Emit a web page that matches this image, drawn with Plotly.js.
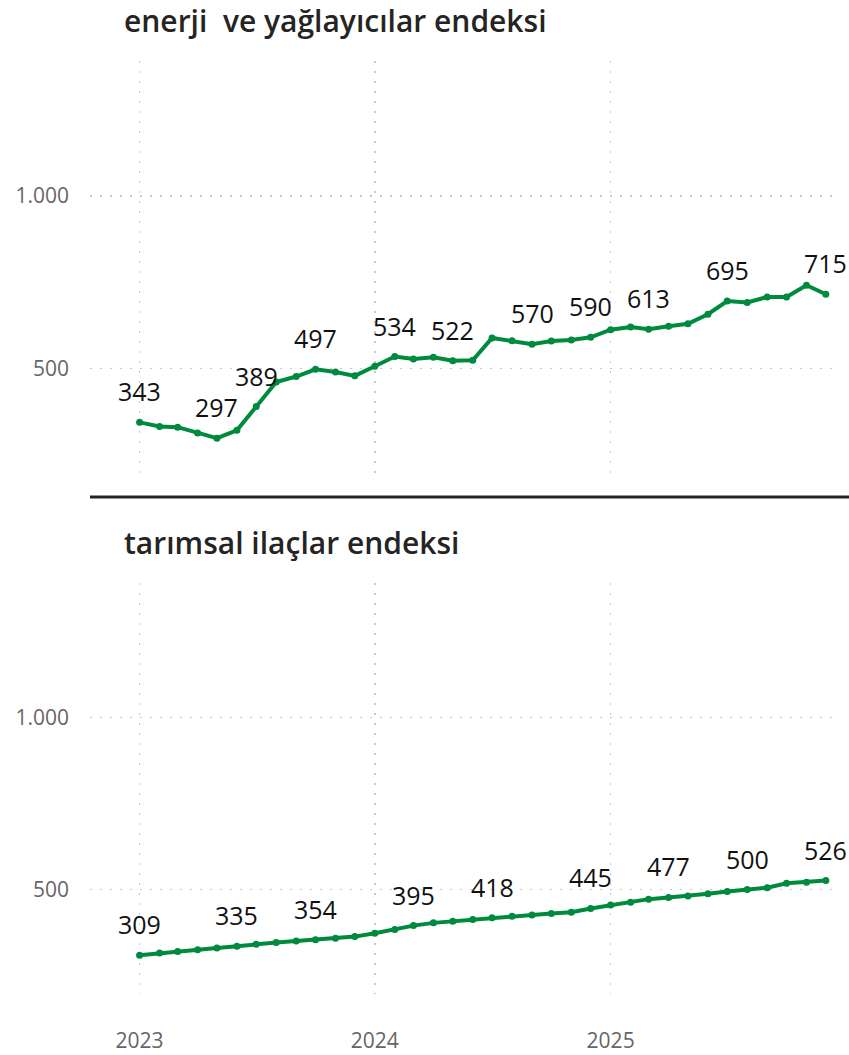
<!DOCTYPE html>
<html>
<head>
<meta charset="utf-8">
<script src="https://cdn.plot.ly/plotly-3.0.1.min.js"></script>
<style>html,body{margin:0;padding:0;background:#fff;}#chart{width:849px;height:1055px;}</style>
</head>
<body>
<div id="chart"></div>
<script>
const months = ["2023-01-01","2023-02-01","2023-03-01","2023-04-01","2023-05-01","2023-06-01",
"2023-07-01","2023-08-01","2023-09-01","2023-10-01","2023-11-01","2023-12-01",
"2024-01-01","2024-02-01","2024-03-01","2024-04-01","2024-05-01","2024-06-01",
"2024-07-01","2024-08-01","2024-09-01","2024-10-01","2024-11-01","2024-12-01",
"2025-01-01","2025-02-01","2025-03-01","2025-04-01","2025-05-01","2025-06-01",
"2025-07-01","2025-08-01","2025-09-01","2025-10-01","2025-11-01","2025-12-01"];

const energyTitle = "enerji  ve yağlayıcılar endeksi";
const energy = [343,331,329,312,297,320,389,460,476,497,489,478,
                506,534,527,532,522,523,588,580,570,579,582,590,
                612,620,613,622,629,657,695,691,707,707,741,715];
const energyLabelIdx = [0,4,6,9,13,16,20,23,26,30,35];

const agroTitle = "tarımsal ilaçlar endeksi";
const agro = [309,315,320,325,330,335,341,346,350,354,358,363,
              373,384,395,403,408,413,418,422,426,430,434,445,
              455,463,472,477,481,488,494,500,505,518,521,526];
const agroLabelIdx = [0,5,9,14,18,23,27,31,35];

const yTickVals = [500, 1000];
const xTickVals = ["2023-01-01","2024-01-01","2025-01-01"];
const xTickText = ["2023","2024","2025"];

const green = "#008A3E";
const font = "'Open Sans', 'Noto Sans', sans-serif";

function trace(y, xa, ya) {
  return {x: months, y: y, xaxis: xa, yaxis: ya, type: "scatter", mode: "lines+markers",
    line: {color: green, width: 4}, marker: {color: green, size: 7}, hoverinfo: "skip"};
}

const annotations = [];
energyLabelIdx.forEach(i => annotations.push({x: months[i], y: energy[i], xref: "x", yref: "y",
  text: String(energy[i]), showarrow: false, yshift: 31, yanchor: "middle",
  font: {family: font, size: 25, color: "#111111"}}));
agroLabelIdx.forEach(i => annotations.push({x: months[i], y: agro[i], xref: "x2", yref: "y2",
  text: String(agro[i]), showarrow: false, yshift: 31, yanchor: "middle",
  font: {family: font, size: 25, color: "#111111"}}));
annotations.push({text: energyTitle, xref: "paper", yref: "paper", x: 122/849, y: 1 - 21/1055,
  xanchor: "left", yanchor: "middle", showarrow: false, font: {family: font, size: 30, color: "#252423", weight: 600}});
annotations.push({text: agroTitle, xref: "paper", yref: "paper", x: 122/849, y: 1 - 542/1055,
  xanchor: "left", yanchor: "middle", showarrow: false, font: {family: font, size: 30, color: "#252423", weight: 600}});

const xr = ["2022-10-16", "2025-12-23"];
const yr = [196, 1392];
const xdom = [90/849, 840/849];
const grid = {showgrid: true, gridcolor: "#c8c8c8", gridwidth: 1.5, griddash: "2px,8px", zeroline: false, showline: false};
const tickFont = {family: font, size: 21, color: "#666666"};

const layout = {
  width: 849, height: 1055, margin: {l: 0, r: 0, t: 0, b: 0},
  paper_bgcolor: "#fff", plot_bgcolor: "#fff", showlegend: false, separators: ",.",
  xaxis: Object.assign({domain: xdom, range: xr, type: "date", anchor: "y", tickvals: xTickVals, ticktext: xTickText,
    showticklabels: false, ticks: ""}, grid),
  yaxis: Object.assign({domain: [1 - 473/1055, 1 - 61/1055], range: yr, anchor: "x", tickvals: yTickVals, tickformat: ",d",
    ticks: "", ticklabelstandoff: 20, tickfont: tickFont}, grid),
  xaxis2: Object.assign({domain: xdom, range: xr, type: "date", anchor: "y2", tickvals: xTickVals, ticktext: xTickText,
    ticks: "", ticklabelstandoff: 32, tickfont: tickFont}, grid),
  yaxis2: Object.assign({domain: [1 - 994/1055, 1 - 583/1055], range: yr, anchor: "x2", tickvals: yTickVals, tickformat: ",d",
    ticks: "", ticklabelstandoff: 20, tickfont: tickFont}, grid),
  shapes: [{type: "line", xref: "paper", yref: "paper", x0: 90/849, x1: 1, y0: 1 - 497/1055, y1: 1 - 497/1055,
    line: {color: "#252423", width: 3}}],
  annotations: annotations
};

Plotly.newPlot("chart", [trace(energy, "x", "y"), trace(agro, "x2", "y2")], layout, {displayModeBar: false, staticPlot: true});
</script>
</body>
</html>
